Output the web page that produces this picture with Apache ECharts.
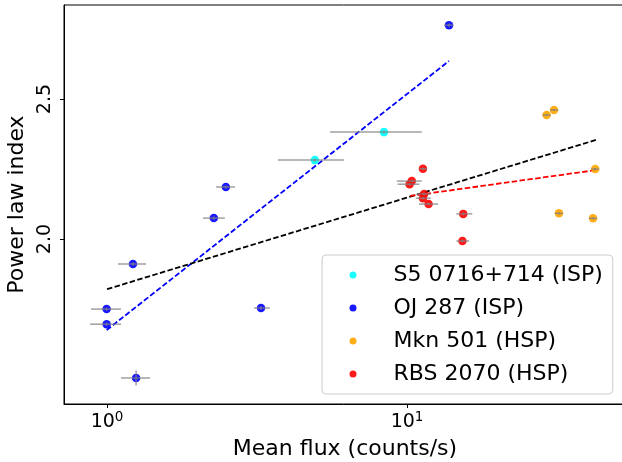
<!DOCTYPE html>
<html>
<head>
<meta charset="utf-8">
<script src="https://cdn.jsdelivr.net/npm/echarts@6/dist/echarts.min.js"></script>
<style>html,body{margin:0;padding:0;background:#fff;}#c{width:622px;height:462px;}</style>
</head>
<body>
<div id="c"></div>
<script>
// ---- data ----
const seriesNames = ['S5 0716+714 (ISP)', 'OJ 287 (ISP)', 'Mkn 501 (HSP)', 'RBS 2070 (HSP)'];

const s5X    = [4.93, 8.38];
const s5Y    = [2.282, 2.382];
const s5XLo  = [3.71, 5.54];
const s5XHi  = [6.17, 11.2];
const s5YErr = [0.006, 0.006];

const ojX    = [13.8, 2.49, 2.27, 1.22, 0.997, 0.997, 3.26, 1.25];
const ojY    = [2.764, 2.186, 2.075, 1.911, 1.750, 1.696, 1.754, 1.504];
const ojXLo  = [13.3, 2.31, 2.09, 1.088, 0.884, 0.878, 3.09, 1.113];
const ojXHi  = [14.3, 2.67, 2.47, 1.349, 1.113, 1.113, 3.49, 1.391];
const ojYErr = [0.006, 0.006, 0.006, 0.006, 0.006, 0.006, 0.006, 0.027];

const mknX    = [29.2, 30.9, 42.4, 32.1, 41.7];
const mknY    = [2.443, 2.461, 2.250, 2.092, 2.074];
const mknXLo  = [28.3, 30.0, 41.1, 31.1, 40.4];
const mknXHi  = [30.1, 31.9, 43.7, 33.1, 43.0];
const mknYErr = [0.004, 0.004, 0.004, 0.004, 0.004];

const rbsX    = [11.3, 10.37, 10.2, 11.4, 11.3, 11.8, 15.4, 15.3];
const rbsY    = [2.251, 2.207, 2.196, 2.161, 2.146, 2.125, 2.090, 1.993];
const rbsXLo  = [11.0, 9.25, 9.3, 10.8, 10.7, 10.96, 14.6, 14.6];
const rbsXHi  = [11.66, 11.2, 11.0, 12.0, 12.0, 12.7, 16.5, 16.1];
const rbsYErr = [0.005, 0.005, 0.005, 0.005, 0.005, 0.005, 0.005, 0.005];

const ojFitX  = [0.997, 13.8];
const ojFitY  = [1.675, 2.636];
const allFitX = [1.0, 42.6];
const allFitY = [1.821, 2.354];
const rbsFitX = [10.23, 42.4];
const rbsFitY = [2.154, 2.246];

const xTicks = [1, 10];
const yTicks = [2.0, 2.5];
const xMin = 0.7187, xMax = 53.7;
const yMin = 1.411, yMax = 2.836;

// ---- build ----
const colors = ['#00ffff', '#0000ff', '#ffa500', '#ff0000'];
const groups = [
  [s5X, s5Y, s5XLo, s5XHi, s5YErr],
  [ojX, ojY, ojXLo, ojXHi, ojYErr],
  [mknX, mknY, mknXLo, mknXHi, mknYErr],
  [rbsX, rbsY, rbsXLo, rbsXHi, rbsYErr]
];
const font = 'DejaVu Sans';
const series = [];

function pairs(xs, ys) { return xs.map((x, i) => [x, ys[i]]); }

[[ojFitX, ojFitY, '#0000ff'], [allFitX, allFitY, '#000000'], [rbsFitX, rbsFitY, '#ff0000']].forEach(([fx, fy, c]) => {
  series.push({
    type: 'line', data: pairs(fx, fy), symbol: 'none', silent: true, z: 2,
    lineStyle: { color: c, width: 1.8, type: [5.5, 2.4] }
  });
});

groups.forEach((g, k) => {
  series.push({
    name: seriesNames[k], type: 'scatter', data: pairs(g[0], g[1]),
    symbol: 'circle', symbolSize: 8.5, z: 3,
    itemStyle: { color: colors[k], opacity: 0.9 }
  });
});

const errData = [];
groups.forEach(g => {
  g[0].forEach((x, i) => errData.push([x, g[1][i], g[2][i], g[3][i], g[4][i]]));
});
series.push({
  type: 'custom', z: 4, silent: true,
  data: errData,
  encode: { x: [0, 2, 3], y: 1 },
  renderItem: function (params, api) {
    const x = api.value(0), y = api.value(1), lo = api.value(2), hi = api.value(3), ye = api.value(4);
    const a = api.coord([lo, y]), b = api.coord([hi, y]);
    const c = api.coord([x, y - ye]), d = api.coord([x, y + ye]);
    const st = { stroke: '#808080', lineWidth: 1.5, opacity: 0.75 };
    return {
      type: 'group', children: [
        { type: 'line', shape: { x1: a[0], y1: a[1], x2: b[0], y2: b[1] }, style: st },
        { type: 'line', shape: { x1: c[0], y1: c[1], x2: d[0], y2: d[1] }, style: st }
      ]
    };
  }
});

const chart = echarts.init(document.getElementById('c'), null, { renderer: 'canvas' });
chart.setOption({
  animation: false,
  backgroundColor: '#ffffff',
  textStyle: { fontFamily: font },
  grid: { left: 64, top: 5, width: 562, height: 399, outerBoundsMode: 'none', containLabel: false, show: true, borderColor: '#000', borderWidth: 1, backgroundColor: 'transparent' },
  xAxis: {
    type: 'log', logBase: 10, min: xMin, max: xMax,
    name: 'Mean flux (counts/s)', nameLocation: 'middle', nameGap: 34,
    nameTextStyle: { fontSize: 22, color: '#000', fontFamily: font },
    axisLine: { show: true, lineStyle: { color: '#000', width: 1 } },
    axisTick: { show: true, customValues: xTicks, length: 4, inside: false, lineStyle: { color: '#000' } },
    minorTick: { show: false },
    splitLine: { show: false },
    axisLabel: {
      customValues: xTicks, margin: 6,
      formatter: function (v) { return '{b|10}{s|' + Math.round(Math.log10(v)) + '}'; },
      rich: {
        b: { fontSize: 19, lineHeight: 22, verticalAlign: 'bottom', color: '#000', fontFamily: font },
        s: { fontSize: 13.5, lineHeight: 10, verticalAlign: 'top', color: '#000', fontFamily: font }
      }
    }
  },
  yAxis: {
    type: 'value', min: yMin, max: yMax,
    name: 'Power law index', nameLocation: 'middle', nameGap: 34,
    nameTextStyle: { fontSize: 22, color: '#000', fontFamily: font },
    axisLine: { show: true, lineStyle: { color: '#000', width: 1 } },
    axisTick: { show: true, customValues: yTicks, length: 4, lineStyle: { color: '#000' } },
    splitLine: { show: false },
    axisLabel: {
      customValues: yTicks, rotate: 90, margin: 9, fontSize: 19, color: '#000', fontFamily: font,
      formatter: function (v) { return Number(v).toFixed(1); }
    }
  },
  legend: {
    data: seriesNames, orient: 'vertical', left: 322, top: 255,
    padding: [8, 10, 8, 27.5], itemGap: 9, itemWidth: 7, itemHeight: 7,
    icon: 'circle',
    backgroundColor: 'rgba(255,255,255,0.8)', borderColor: '#cccccc', borderWidth: 1, borderRadius: 4,
    textStyle: { fontSize: 22, lineHeight: 24, color: '#000', fontFamily: font, padding: [0, 0, 0, 32] }
  },
  series: series
});
</script>
</body>
</html>
